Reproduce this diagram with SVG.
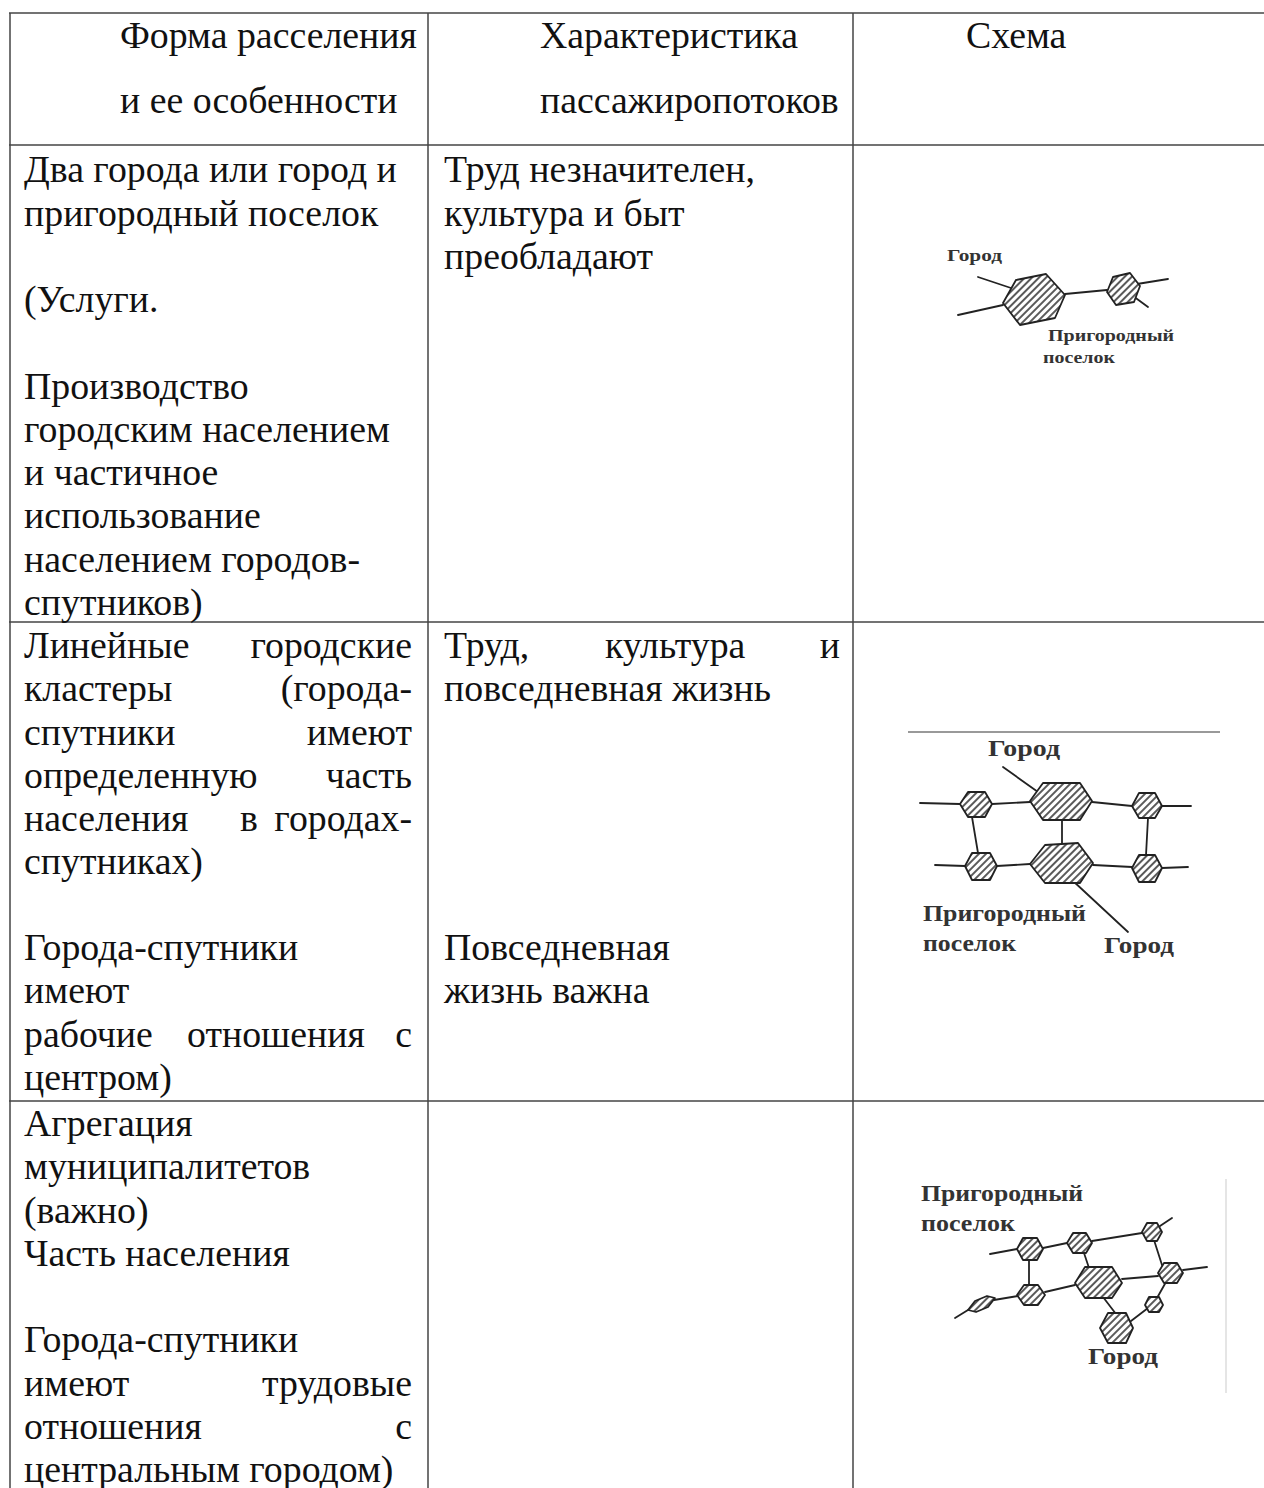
<svg xmlns="http://www.w3.org/2000/svg" width="1264" height="1488" viewBox="0 0 1264 1488">
<style>
.t{font-family:"Liberation Serif","Times New Roman",serif;font-size:37.8px;fill:#111}
.e{text-anchor:end}
.g{stroke:#444;stroke-width:1.5;fill:none}
.lbl{font-family:"Liberation Serif","Times New Roman",serif;font-weight:bold;fill:#333}
.ln{stroke:#222;stroke-width:1.8;fill:none;stroke-linecap:round}
.hx{fill:url(#hatch);stroke:#222;stroke-width:1.8;stroke-linejoin:round}
</style>
<defs>
<pattern id="hatch" width="5" height="5" patternUnits="userSpaceOnUse" patternTransform="rotate(45)">
<rect width="5" height="5" fill="#fff"/>
<line x1="1" y1="0" x2="1" y2="5" stroke="#222" stroke-width="1.5"/>
</pattern>
</defs>
<rect width="1264" height="1488" fill="#fff"/>
<g id="table">
<line class="g" x1="9" y1="13" x2="1264" y2="13"/>
<line class="g" x1="10" y1="13" x2="10" y2="1488"/>
<line class="g" x1="428" y1="13" x2="428" y2="1488"/>
<line class="g" x1="853" y1="13" x2="853" y2="1488"/>
<line class="g" x1="9" y1="145" x2="1264" y2="145"/>
<line class="g" x1="9" y1="622" x2="1264" y2="622"/>
<line class="g" x1="9" y1="1101" x2="1264" y2="1101"/>
</g>
<g id="header">
<text class="t" x="120" y="48">Форма расселения</text>
<text class="t" x="120" y="113">и ее особенности</text>
<text class="t" x="540" y="48">Характеристика</text>
<text class="t" x="540" y="113">пассажиропотоков</text>
<text class="t" x="966" y="48">Схема</text>
</g>
<g id="row1-col1">
<text class="t" x="24" y="182">Два города или город и</text>
<text class="t" x="24" y="225.5">пригородный поселок</text>
<text class="t" x="24" y="312">(Услуги.</text>
<text class="t" x="24" y="398.5">Производство</text>
<text class="t" x="24" y="442">городским населением</text>
<text class="t" x="24" y="485">и частичное</text>
<text class="t" x="24" y="528">использование</text>
<text class="t" x="24" y="571.5">населением городов-</text>
<text class="t" x="24" y="615">спутников)</text>
</g>
<g id="row1-col2">
<text class="t" x="444" y="182">Труд незначителен,</text>
<text class="t" x="444" y="225.5">культура и быт</text>
<text class="t" x="444" y="269">преобладают</text>
</g>
<g id="row2-col1">
<text class="t" x="24" y="658">Линейные</text><text class="t e" x="412" y="658">городские</text>
<text class="t" x="24" y="701">кластеры</text><text class="t e" x="412" y="701">(города-</text>
<text class="t" x="24" y="744.5">спутники</text><text class="t e" x="412" y="744.5">имеют</text>
<text class="t" x="24" y="788">определенную</text><text class="t e" x="412" y="788">часть</text>
<text class="t" x="24" y="831">населения</text><text class="t" x="240" y="831">в</text><text class="t e" x="412" y="831">городах-</text>
<text class="t" x="24" y="874">спутниках)</text>
<text class="t" x="24" y="960">Города-спутники</text>
<text class="t" x="24" y="1003">имеют</text>
<text class="t" x="24" y="1046.5">рабочие</text><text class="t" x="187" y="1046.5">отношения</text><text class="t e" x="412" y="1046.5">с</text>
<text class="t" x="24" y="1090">центром)</text>
</g>
<g id="row2-col2">
<text class="t" x="444" y="658">Труд,</text><text class="t" x="605" y="658">культура</text><text class="t e" x="840" y="658">и</text>
<text class="t" x="444" y="701">повседневная жизнь</text>
<text class="t" x="444" y="960">Повседневная</text>
<text class="t" x="444" y="1003">жизнь важна</text>
</g>
<g id="row3-col1">
<text class="t" x="24" y="1136">Агрегация</text>
<text class="t" x="24" y="1179">муниципалитетов</text>
<text class="t" x="24" y="1222.5">(важно)</text>
<text class="t" x="24" y="1266">Часть населения</text>
<text class="t" x="24" y="1352">Города-спутники</text>
<text class="t" x="24" y="1395.5">имеют</text><text class="t e" x="412" y="1395.5">трудовые</text>
<text class="t" x="24" y="1439">отношения</text><text class="t e" x="412" y="1439">с</text>
<text class="t" x="24" y="1482">центральным городом)</text>
</g>
<g id="scheme1">
<g id="s1-links">
<line class="ln" x1="958" y1="315" x2="1003" y2="305"/>
<line class="ln" x1="978" y1="277" x2="1017" y2="290"/>
<line class="ln" x1="1065" y1="294" x2="1107" y2="290"/>
<line class="ln" x1="1137" y1="284" x2="1168" y2="279"/>
<line class="ln" x1="1133" y1="296" x2="1148" y2="307"/>
</g>
<g id="s1-city"><polygon class="hx" points="1003,303 1016,280 1046,274 1065,295 1055,318 1020,325"/></g>
<g id="s1-suburb"><polygon class="hx" points="1107,292 1113,277 1130,273 1140,286 1134,302 1116,305"/></g>
<text class="lbl" x="947" y="261" font-size="17" textLength="55" lengthAdjust="spacingAndGlyphs">Город</text>
<text class="lbl" x="1048" y="341" font-size="17" textLength="126" lengthAdjust="spacingAndGlyphs">Пригородный</text>
<text class="lbl" x="1043" y="363" font-size="17" textLength="72" lengthAdjust="spacingAndGlyphs">поселок</text>
</g>
<g id="scheme2">
<line x1="908" y1="732" x2="1220" y2="732" stroke="#777" stroke-width="1.5"/>
<g id="s2-links">
<line class="ln" x1="920" y1="803" x2="960" y2="804"/>
<line class="ln" x1="992" y1="804" x2="1030" y2="802"/>
<line class="ln" x1="1092" y1="802" x2="1132" y2="806"/>
<line class="ln" x1="1162" y1="806" x2="1191" y2="806"/>
<line class="ln" x1="935" y1="865" x2="965" y2="866"/>
<line class="ln" x1="997" y1="866" x2="1030" y2="864"/>
<line class="ln" x1="1093" y1="865" x2="1132" y2="867"/>
<line class="ln" x1="1162" y1="868" x2="1188" y2="867"/>
<line class="ln" x1="972" y1="817" x2="978" y2="853"/>
<line class="ln" x1="1148" y1="818" x2="1146" y2="855"/>
<line class="ln" x1="1062" y1="820" x2="1062" y2="843"/>
<line class="ln" x1="1003" y1="767" x2="1038" y2="792"/>
<line class="ln" x1="1072" y1="880" x2="1128" y2="932"/>
</g>
<g id="s2-city-top"><polygon class="hx" points="1030,801 1043,783 1080,783 1092,801 1080,820 1043,820"/></g>
<g id="s2-city-bottom"><polygon class="hx" points="1030,864 1045,845 1078,843 1093,863 1080,883 1045,883"/></g>
<g id="s2-tl"><polygon class="hx" points="960,804 968,792 985,792 992,804 985,817 968,817"/></g>
<g id="s2-tr"><polygon class="hx" points="1132,806 1139,793 1155,793 1162,806 1155,818 1139,818"/></g>
<g id="s2-bl"><polygon class="hx" points="965,866 972,853 990,853 997,866 990,880 972,880"/></g>
<g id="s2-br"><polygon class="hx" points="1132,868 1139,855 1155,855 1162,868 1155,882 1139,882"/></g>
<text class="lbl" x="988" y="756" font-size="24" textLength="72" lengthAdjust="spacingAndGlyphs">Город</text>
<text class="lbl" x="923" y="921" font-size="24" textLength="163" lengthAdjust="spacingAndGlyphs">Пригородный</text>
<text class="lbl" x="923" y="951" font-size="24" textLength="93" lengthAdjust="spacingAndGlyphs">поселок</text>
<text class="lbl" x="1104" y="953" font-size="24" textLength="70" lengthAdjust="spacingAndGlyphs">Город</text>
</g>
<g id="scheme3">
<line x1="1226" y1="1179" x2="1226" y2="1393" stroke="#ddd" stroke-width="1.5"/>
<g id="s3-links">
<line class="ln" x1="990" y1="1254" x2="1017" y2="1249"/>
<line class="ln" x1="1043" y1="1248" x2="1067" y2="1243"/>
<line class="ln" x1="1092" y1="1241" x2="1142" y2="1233"/>
<line class="ln" x1="1160" y1="1226" x2="1172" y2="1218"/>
<line class="ln" x1="1154" y1="1240" x2="1162" y2="1265"/>
<line class="ln" x1="1084" y1="1253" x2="1089" y2="1268"/>
<line class="ln" x1="1029" y1="1260" x2="1029" y2="1285"/>
<line class="ln" x1="1045" y1="1292" x2="1075" y2="1285"/>
<line class="ln" x1="1122" y1="1279" x2="1158" y2="1276"/>
<line class="ln" x1="1183" y1="1270" x2="1207" y2="1267"/>
<line class="ln" x1="1166" y1="1282" x2="1157" y2="1298"/>
<line class="ln" x1="1148" y1="1308" x2="1131" y2="1321"/>
<line class="ln" x1="1103" y1="1297" x2="1116" y2="1314"/>
<line class="ln" x1="994" y1="1300" x2="1018" y2="1296"/>
<line class="ln" x1="968" y1="1310" x2="955" y2="1318"/>
</g>
<g id="s3-a"><polygon class="hx" points="1017,1249 1023,1238 1037,1238 1043,1249 1037,1260 1023,1260"/></g>
<g id="s3-b"><polygon class="hx" points="1067,1243 1073,1233 1086,1233 1092,1243 1086,1253 1073,1253"/></g>
<g id="s3-c"><polygon class="hx" points="1142,1232 1147,1223 1157,1223 1162,1232 1157,1241 1147,1241"/></g>
<g id="s3-d"><polygon class="hx" points="1075,1283 1085,1267 1112,1267 1122,1283 1112,1298 1085,1298"/></g>
<g id="s3-e"><polygon class="hx" points="1158,1273 1164,1263 1177,1263 1183,1273 1177,1283 1164,1283"/></g>
<g id="s3-f"><polygon class="hx" points="1017,1295 1024,1285 1038,1285 1045,1295 1038,1305 1024,1305"/></g>
<g id="s3-g"><polygon class="hx" points="968,1310 975,1301 987,1296 995,1298 988,1307 976,1312"/></g>
<g id="s3-h"><polygon class="hx" points="1145,1305 1149,1297 1159,1297 1163,1305 1159,1312 1149,1312"/></g>
<g id="s3-i"><polygon class="hx" points="1100,1328 1108,1313 1126,1313 1133,1328 1126,1343 1108,1343"/></g>
<text class="lbl" x="921" y="1201" font-size="24" textLength="162" lengthAdjust="spacingAndGlyphs">Пригородный</text>
<text class="lbl" x="921" y="1231" font-size="24" textLength="94" lengthAdjust="spacingAndGlyphs">поселок</text>
<text class="lbl" x="1088" y="1364" font-size="24" textLength="70" lengthAdjust="spacingAndGlyphs">Город</text>
</g>
</svg>
